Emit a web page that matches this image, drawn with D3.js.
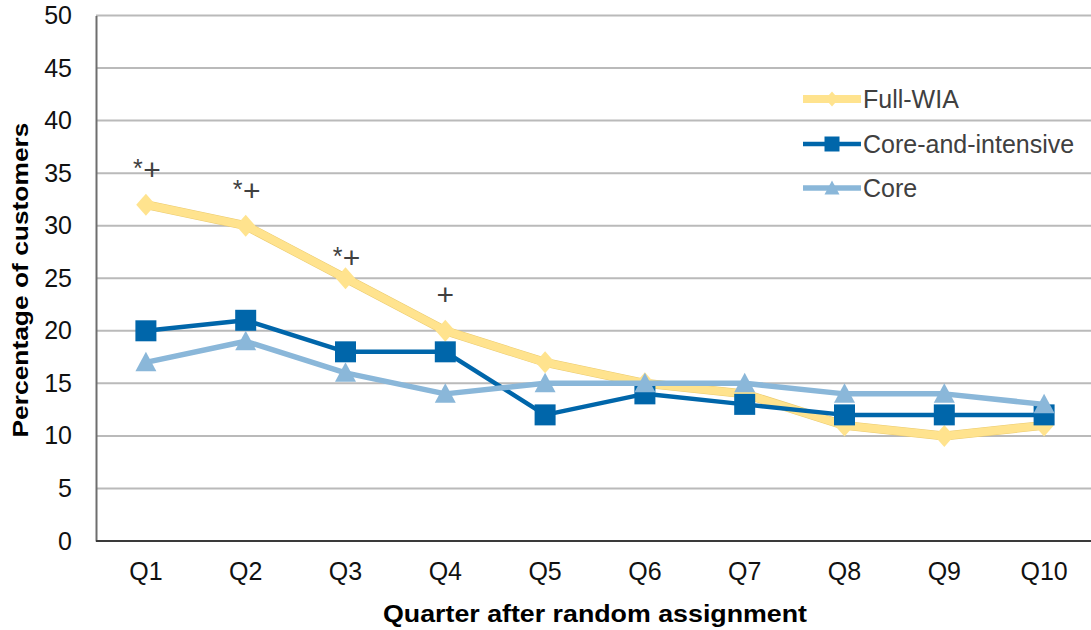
<!DOCTYPE html>
<html>
<head>
<meta charset="utf-8">
<script src="https://cdn.jsdelivr.net/npm/d3@7"></script>
<style>
  html, body { margin: 0; padding: 0; background: #fff; }
  svg { display: block; font-family: "Liberation Sans", Arial, sans-serif; }
</style>
</head>
<body>
<svg id="chart" width="1091" height="630"></svg>
<script>
// ---- data ----
const categories = ["Q1","Q2","Q3","Q4","Q5","Q6","Q7","Q8","Q9","Q10"];
const seriesNames = ["Full-WIA","Core-and-intensive","Core"];
const fullWIA = [32, 30, 25, 20, 17, 15, 14, 11, 10, 11];
const coreIntensive = [20, 21, 18, 18, 12, 14, 13, 12, 12, 12];
const core = [17, 19, 16, 14, 15, 15, 15, 14, 14, 13];
const yTicks = [0, 5, 10, 15, 20, 25, 30, 35, 40, 45, 50];
const annotCategories = ["Q1","Q2","Q3","Q4"];
const annotStars = ["*","*","*",""];
const annotPlusLevel = [35.4, 33.4, 27.0, 23.5];
const yTitle = "Percentage of customers";
const xTitle = "Quarter after random assignment";

// ---- layout ----
const svg = d3.select("#chart");
const plotLeft = 96, plotRight = 1094, plotTop = 15.5, plotBottom = 541;

const x = d3.scaleBand().domain(categories).range([plotLeft, plotRight]).padding(0);
const cx = d => x(d) + x.bandwidth() / 2;
const y = d3.scaleLinear().domain([0, 50]).range([plotBottom, plotTop]);

// gridlines
svg.append("g").selectAll("line").data(yTicks.filter(t => t > 0)).join("line")
  .attr("x1", plotLeft).attr("x2", 1091)
  .attr("y1", d => y(d)).attr("y2", d => y(d))
  .attr("stroke", "#bababa").attr("stroke-width", 2);

// y axis
const yAxis = svg.append("g").attr("transform", `translate(${plotLeft},0)`)
  .call(d3.axisLeft(y).tickValues(yTicks).tickSize(0).tickPadding(24));
yAxis.select(".domain").attr("stroke", "#6e6e6e").attr("stroke-width", 2);
yAxis.selectAll("text").attr("font-size", 25).attr("fill", "#111")
  .attr("font-family", "'Liberation Sans', Arial, sans-serif");

// x axis
const xAxis = svg.append("g").attr("transform", `translate(0,${plotBottom})`)
  .call(d3.axisBottom(x).tickSize(0).tickPadding(21));
xAxis.select(".domain").attr("stroke", "#3a3a3a").attr("stroke-width", 2)
  .attr("d", `M${plotLeft},0H1091`);
xAxis.selectAll("text").attr("font-size", 25).attr("fill", "#111")
  .attr("font-family", "'Liberation Sans', Arial, sans-serif");

// axis titles
svg.append("text")
  .attr("transform", "translate(28,280) rotate(-90)")
  .attr("text-anchor", "middle")
  .attr("font-size", 22).attr("font-weight", "bold").attr("fill", "#000")
  .attr("textLength", 315).attr("lengthAdjust", "spacingAndGlyphs")
  .text(yTitle);
svg.append("text")
  .attr("x", 595).attr("y", 622)
  .attr("text-anchor", "middle")
  .attr("font-size", 24.5).attr("font-weight", "bold").attr("fill", "#000")
  .attr("textLength", 424).attr("lengthAdjust", "spacingAndGlyphs")
  .text(xTitle);

// series
const series = [
  { name: seriesNames[0], values: fullWIA, color: "#FFE38E", edge: "#EBCB70", width: 8, shape: "diamond", size: 22 },
  { name: seriesNames[1], values: coreIntensive, color: "#0066AA", edge: null, width: 4.5, shape: "square", size: 21 },
  { name: seriesNames[2], values: core, color: "#8AB7D9", edge: null, width: 5.5, shape: "triangle", size: 21 }
];

function markerPath(shape, s) {
  const h = s / 2;
  if (shape === "diamond") return `M0,${-h}L${h * 0.88},0L0,${h}L${-h * 0.88},0Z`;
  if (shape === "square") return `M${-h},${-h}H${h}V${h}H${-h}Z`;
  return `M0,${-h}L${h},${h * 0.85}H${-h}Z`;
}

const line = d3.line().x(d => cx(d.cat)).y(d => y(d.v));

series.forEach(s => {
  const pts = categories.map((c, i) => ({ cat: c, v: s.values[i] }));
  const g = svg.append("g");
  if (s.edge) {
    g.append("path").datum(pts).attr("d", line)
      .attr("fill", "none").attr("stroke", s.edge).attr("stroke-width", s.width + 1)
      .attr("stroke-linejoin", "round");
  }
  g.append("path").datum(pts).attr("d", line)
    .attr("fill", "none").attr("stroke", s.color).attr("stroke-width", s.width)
    .attr("stroke-linejoin", "round");
  g.selectAll("path.m").data(pts).join("path").attr("class", "m")
    .attr("transform", d => `translate(${cx(d.cat)},${y(d.v)})`)
    .attr("d", markerPath(s.shape, s.size))
    .attr("fill", s.color);
});

// significance annotations
annotCategories.forEach((c, i) => {
  const plusY = y(annotPlusLevel[i]);
  const hasStar = annotStars[i] !== "";
  const plusX = cx(c) + (hasStar ? 6 : 0);
  svg.append("text").attr("x", plusX).attr("y", plusY + 11)
    .attr("text-anchor", "middle").attr("font-size", 30).attr("fill", "#404040")
    .text("+");
  if (hasStar) {
    svg.append("text").attr("x", cx(c) - 8).attr("y", plusY - 6 + 14)
      .attr("text-anchor", "middle").attr("font-size", 25).attr("fill", "#404040")
      .text(annotStars[i]);
  }
});

// legend
const legendY = [99, 144, 188];
series.forEach((s, i) => {
  const g = svg.append("g").attr("transform", `translate(0,${legendY[i]})`);
  g.append("line").attr("x1", 803).attr("x2", 861).attr("y1", 0).attr("y2", 0)
    .attr("stroke", s.color).attr("stroke-width", s.width);
  g.append("path").attr("transform", "translate(832,0)")
    .attr("d", markerPath(s.shape, 15)).attr("fill", s.color);
  g.append("text").attr("x", 863).attr("y", 9)
    .attr("font-size", 25).attr("fill", "#404040").text(s.name);
});
</script>
</body>
</html>
